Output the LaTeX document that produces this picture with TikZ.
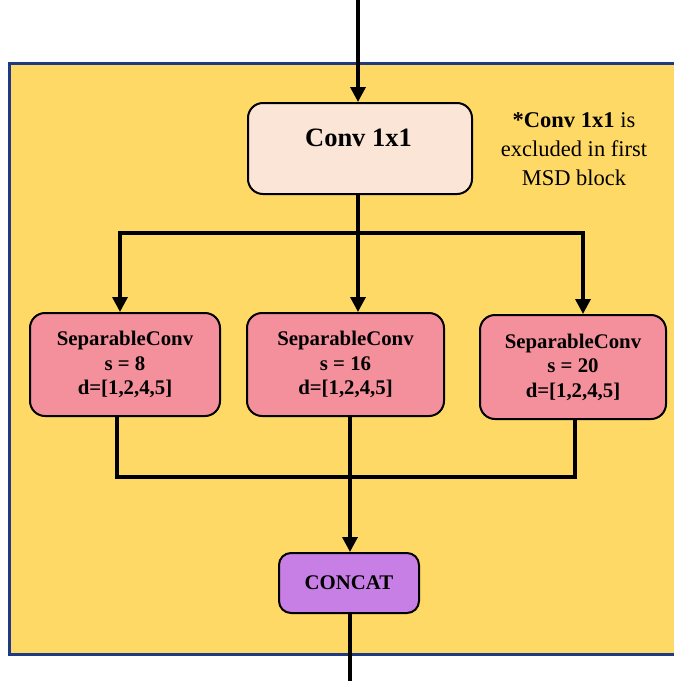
\documentclass[tikz,border=0pt]{standalone}
\usepackage{fontspec}
\setmainfont{Liberation Serif}
\usetikzlibrary{arrows.meta}

\definecolor{panel}{HTML}{FFD966}
\definecolor{panelrule}{HTML}{1F3A85}
\definecolor{convfill}{HTML}{FBE5D6}
\definecolor{sepfill}{HTML}{F48F9C}
\definecolor{catfill}{HTML}{C87FE5}

\tikzset{
  wire/.style={line width=3.4pt, black},
  flow/.style={wire, -{Triangle[width=15pt,length=15pt]}},
  block/.style={draw=black, line width=2pt, rounded corners=15pt,
    inner sep=0pt, align=center, font=\bfseries\fontsize{20.8}{24.5}\selectfont},
}

\begin{document}
\begin{tikzpicture}[x=1pt,y=-1pt]
  \useasboundingbox (0,0) rectangle (673,681);

  % yellow panel, open on the right
  \fill[panel] (9,63) rectangle (680,654);
  \draw[panelrule, line width=3pt] (680,63) -- (9,63) -- (9,654) -- (680,654);

  % blocks
  \node[block, fill=convfill, minimum width=224pt, minimum height=91pt] (conv) at (360,148.5) {};
  \node[font=\bfseries\fontsize{26.5}{30}\selectfont] (convlbl) at (358.5,138) {Conv 1x1};

  \node[block, fill=sepfill, minimum width=190pt, minimum height=103pt] (sepA) at (125,364.5)
    {SeparableConv\\ s = 8\\ d=[1,2,4,5]};
  \node[block, fill=sepfill, minimum width=197pt, minimum height=103pt] (sepB) at (345.5,364.5)
    {SeparableConv\\ s = 16\\ d=[1,2,4,5]};
  \node[block, fill=sepfill, minimum width=186pt, minimum height=104pt] (sepC) at (573,367)
    {SeparableConv\\ s = 20\\ d=[1,2,4,5]};

  \node[block, rounded corners=12pt, fill=catfill, minimum width=140pt, minimum height=60pt] (cat) at (349,583) {CONCAT};

  % side note
  \node[align=center, font=\fontsize{22.5}{29}\selectfont] (note) at (574,149)
    {\textbf{*Conv 1x1} is\\ excluded in first\\ MSD block};

  % input and output
  \coordinate (in) at (358,0);
  \coordinate (out) at (350,681);
  \draw[flow] (in) -- ([xshift=-2pt]conv.north);
  \draw[wire] ([xshift=1pt]cat.south) -- (out);

  % split into the three branches
  \coordinate (split) at (358,233);
  \draw[wire] ([xshift=-2pt]conv.south) -- (split);
  \draw[flow] (split) -| ([xshift=-5pt]sepA.north);
  \draw[flow] (split) -- ([xshift=12.5pt]sepB.north);
  \draw[flow] (split) -| ([xshift=10pt]sepC.north);

  % merge into concat
  \coordinate (merge) at (350,477);
  \draw[wire] ([xshift=-8pt]sepA.south) |- (merge);
  \draw[wire] ([xshift=2pt]sepC.south) |- (merge);
  \draw[wire] ([xshift=4.5pt]sepB.south) -- (merge);
  \draw[flow] (merge) -- ([xshift=1pt]cat.north);
\end{tikzpicture}
\end{document}
